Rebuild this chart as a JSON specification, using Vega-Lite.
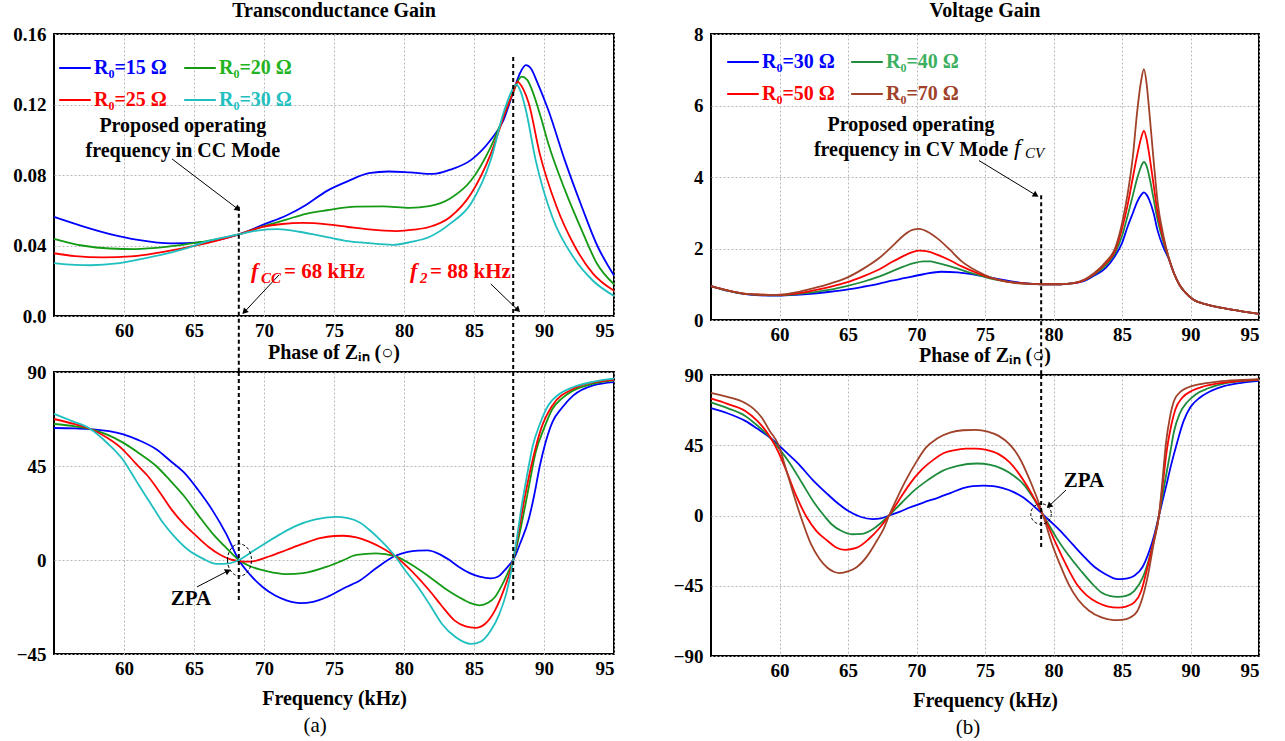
{
 "$schema": "https://vega.github.io/schema/vega-lite/v6.json",
 "background": "white",
 "padding": {"left": 11, "top": 0, "right": 5, "bottom": 0},
 "config": {
  "font": "Liberation Serif",
  "view": {"stroke": "black", "strokeWidth": 2},
  "axis": {"labelFont": "Liberation Serif", "labelFontWeight": "bold", "labelFontSize": 19, "labelColor": "black", "domain": false, "ticks": false, "gridColor": "#b8b8b8", "gridDash": [2, 2], "gridWidth": 1, "titleFont": "Liberation Serif", "titleFontWeight": "bold", "titleFontSize": 20, "titleColor": "black", "labelPadding": 5, "labelOverlap": false},
  "axisY": {"labelPadding": 8},
  "title": {"font": "Liberation Serif", "fontWeight": "bold", "fontSize": 20, "color": "black", "offset": 4},
  "legend": {"orient": "none", "columns": 2, "direction": "horizontal", "title": null, "symbolType": "stroke", "symbolSize": 1000, "symbolStrokeWidth": 2, "labelFont": "Liberation Serif", "labelFontWeight": "bold", "labelFontSize": 20, "labelOffset": 2, "rowPadding": 5, "padding": 0}
 },
 "datasets": {
  "gm": [
   {"s":"15","f":55,"v":0.0562},{"s":"15","f":57,"v":0.051},{"s":"15","f":59,"v":0.0465},{"s":"15","f":61,"v":0.0432},{"s":"15","f":63.4,"v":0.0412},{"s":"15","f":65.5,"v":0.0418},{"s":"15","f":68.2,"v":0.0463},{"s":"15","f":70,"v":0.052},{"s":"15","f":71.6,"v":0.057},{"s":"15","f":73,"v":0.063},{"s":"15","f":74.5,"v":0.071},{"s":"15","f":76,"v":0.0765},{"s":"15","f":77.5,"v":0.081},{"s":"15","f":78.9,"v":0.082},{"s":"15","f":80.4,"v":0.0815},{"s":"15","f":82.1,"v":0.0806},{"s":"15","f":83.3,"v":0.083},{"s":"15","f":84.8,"v":0.0886},{"s":"15","f":86.2,"v":0.1},{"s":"15","f":87.1,"v":0.111},{"s":"15","f":87.8,"v":0.127},{"s":"15","f":88.3,"v":0.138},{"s":"15","f":88.7,"v":0.1423},{"s":"15","f":89.1,"v":0.14},{"s":"15","f":89.5,"v":0.133},{"s":"15","f":90.3,"v":0.117},{"s":"15","f":91.5,"v":0.088},{"s":"15","f":92.7,"v":0.062},{"s":"15","f":93.8,"v":0.04},{"s":"15","f":95,"v":0.023},
   {"s":"20","f":55,"v":0.0438},{"s":"20","f":57,"v":0.04},{"s":"20","f":59,"v":0.0383},{"s":"20","f":60.8,"v":0.038},{"s":"20","f":63,"v":0.0392},{"s":"20","f":65.5,"v":0.042},{"s":"20","f":68.2,"v":0.0463},{"s":"20","f":70,"v":0.051},{"s":"20","f":71.6,"v":0.0547},{"s":"20","f":73,"v":0.058},{"s":"20","f":74.5,"v":0.06},{"s":"20","f":76.6,"v":0.062},{"s":"20","f":78.5,"v":0.0622},{"s":"20","f":80.4,"v":0.0613},{"s":"20","f":81.8,"v":0.0623},{"s":"20","f":83.3,"v":0.0667},{"s":"20","f":84.8,"v":0.077},{"s":"20","f":86.2,"v":0.096},{"s":"20","f":87.4,"v":0.119},{"s":"20","f":87.8,"v":0.127},{"s":"20","f":88.4,"v":0.1358},{"s":"20","f":88.8,"v":0.134},{"s":"20","f":89.2,"v":0.127},{"s":"20","f":89.8,"v":0.112},{"s":"20","f":90.3,"v":0.098},{"s":"20","f":91.5,"v":0.0714},{"s":"20","f":92.7,"v":0.0486},{"s":"20","f":93.8,"v":0.0295},{"s":"20","f":95,"v":0.018},
   {"s":"25","f":55,"v":0.0356},{"s":"25","f":56.5,"v":0.034},{"s":"25","f":58.5,"v":0.0333},{"s":"25","f":60.5,"v":0.0338},{"s":"25","f":62.5,"v":0.036},{"s":"25","f":64.5,"v":0.039},{"s":"25","f":66.5,"v":0.0425},{"s":"25","f":68.2,"v":0.0463},{"s":"25","f":69.9,"v":0.0505},{"s":"25","f":71.3,"v":0.0522},{"s":"25","f":72.8,"v":0.0528},{"s":"25","f":74.5,"v":0.052},{"s":"25","f":76,"v":0.0505},{"s":"25","f":77.5,"v":0.0491},{"s":"25","f":79.5,"v":0.0482},{"s":"25","f":80.7,"v":0.049},{"s":"25","f":81.8,"v":0.0505},{"s":"25","f":83.3,"v":0.0562},{"s":"25","f":84.8,"v":0.0695},{"s":"25","f":86.2,"v":0.092},{"s":"25","f":87.3,"v":0.117},{"s":"25","f":87.8,"v":0.127},{"s":"25","f":88.1,"v":0.133},{"s":"25","f":88.5,"v":0.129},{"s":"25","f":88.9,"v":0.121},{"s":"25","f":89.7,"v":0.092},{"s":"25","f":90.9,"v":0.062},{"s":"25","f":92.1,"v":0.041},{"s":"25","f":93.5,"v":0.024},{"s":"25","f":95,"v":0.0143},
   {"s":"30","f":55,"v":0.03},{"s":"30","f":56.5,"v":0.029},{"s":"30","f":57.6,"v":0.0288},{"s":"30","f":59.5,"v":0.0298},{"s":"30","f":61,"v":0.032},{"s":"30","f":62.8,"v":0.035},{"s":"30","f":64.5,"v":0.0385},{"s":"30","f":65.8,"v":0.042},{"s":"30","f":68.2,"v":0.0463},{"s":"30","f":69.5,"v":0.0485},{"s":"30","f":71,"v":0.0493},{"s":"30","f":72.5,"v":0.0478},{"s":"30","f":74.5,"v":0.0448},{"s":"30","f":76,"v":0.0425},{"s":"30","f":77.5,"v":0.0413},{"s":"30","f":79.2,"v":0.0404},{"s":"30","f":80.5,"v":0.042},{"s":"30","f":81.8,"v":0.0448},{"s":"30","f":83.3,"v":0.0524},{"s":"30","f":84.8,"v":0.064},{"s":"30","f":86.2,"v":0.0886},{"s":"30","f":87.1,"v":0.115},{"s":"30","f":87.6,"v":0.126},{"s":"30","f":88,"v":0.1314},{"s":"30","f":88.35,"v":0.127},{"s":"30","f":88.7,"v":0.117},{"s":"30","f":89.4,"v":0.0886},{"s":"30","f":90.6,"v":0.056},{"s":"30","f":92.1,"v":0.0333},{"s":"30","f":93.5,"v":0.02},{"s":"30","f":95,"v":0.0114}
  ],
  "pa": [
   {"s":"15","f":55,"v":63.2},{"s":"15","f":56.5,"v":63},{"s":"15","f":57.6,"v":62.7},{"s":"15","f":59.9,"v":60.3},{"s":"15","f":61,"v":57.5},{"s":"15","f":62.3,"v":53},{"s":"15","f":63.3,"v":47.5},{"s":"15","f":64.3,"v":41.8},{"s":"15","f":65.3,"v":33.5},{"s":"15","f":66.3,"v":24},{"s":"15","f":67.3,"v":12.5},{"s":"15","f":68.2,"v":0},{"s":"15","f":69,"v":-7},{"s":"15","f":69.9,"v":-12.9},{"s":"15","f":70.8,"v":-17},{"s":"15","f":71.6,"v":-19.3},{"s":"15","f":72.6,"v":-20.6},{"s":"15","f":73.5,"v":-20},{"s":"15","f":74.5,"v":-17.7},{"s":"15","f":75.7,"v":-13.5},{"s":"15","f":76.9,"v":-9.6},{"s":"15","f":78,"v":-4},{"s":"15","f":79.35,"v":1.9},{"s":"15","f":80.2,"v":3.8},{"s":"15","f":81,"v":4.5},{"s":"15","f":81.7,"v":4.6},{"s":"15","f":82.4,"v":3.2},{"s":"15","f":83.2,"v":0.2},{"s":"15","f":83.9,"v":-3.2},{"s":"15","f":84.7,"v":-6.3},{"s":"15","f":85.4,"v":-8},{"s":"15","f":86.2,"v":-8.8},{"s":"15","f":86.7,"v":-8},{"s":"15","f":87.1,"v":-5.6},{"s":"15","f":87.5,"v":-2.5},{"s":"15","f":87.8,"v":0},{"s":"15","f":88.3,"v":8},{"s":"15","f":88.9,"v":19.3},{"s":"15","f":89.3,"v":31},{"s":"15","f":89.7,"v":45},{"s":"15","f":90.1,"v":56},{"s":"15","f":90.6,"v":66},{"s":"15","f":91.3,"v":73},{"s":"15","f":92.1,"v":78.8},{"s":"15","f":93.5,"v":83.6},{"s":"15","f":95,"v":85.2},
   {"s":"20","f":55,"v":65.1},{"s":"20","f":56.5,"v":64},{"s":"20","f":57.6,"v":62.7},{"s":"20","f":58.8,"v":60},{"s":"20","f":59.9,"v":56.3},{"s":"20","f":61.1,"v":51},{"s":"20","f":62.3,"v":45},{"s":"20","f":63.3,"v":38},{"s":"20","f":64.3,"v":30.5},{"s":"20","f":65.3,"v":21.5},{"s":"20","f":66.3,"v":12.9},{"s":"20","f":67.3,"v":5.8},{"s":"20","f":68.2,"v":0},{"s":"20","f":69,"v":-3},{"s":"20","f":69.9,"v":-4.8},{"s":"20","f":70.8,"v":-6.2},{"s":"20","f":71.6,"v":-6.8},{"s":"20","f":72.8,"v":-6.3},{"s":"20","f":74.5,"v":-3.2},{"s":"20","f":75.6,"v":-0.3},{"s":"20","f":76.6,"v":2.4},{"s":"20","f":78,"v":3.2},{"s":"20","f":79.35,"v":1.9},{"s":"20","f":80.6,"v":-2.5},{"s":"20","f":81.8,"v":-8},{"s":"20","f":82.9,"v":-13.5},{"s":"20","f":83.9,"v":-17.7},{"s":"20","f":84.7,"v":-20.5},{"s":"20","f":85.4,"v":-21.7},{"s":"20","f":86,"v":-20.5},{"s":"20","f":86.5,"v":-17.7},{"s":"20","f":87,"v":-12},{"s":"20","f":87.4,"v":-6.4},{"s":"20","f":87.8,"v":0},{"s":"20","f":88.2,"v":11},{"s":"20","f":88.6,"v":24},{"s":"20","f":89,"v":38},{"s":"20","f":89.4,"v":51.4},{"s":"20","f":90,"v":63},{"s":"20","f":90.6,"v":72.3},{"s":"20","f":91.3,"v":77.5},{"s":"20","f":92.1,"v":81.2},{"s":"20","f":93.5,"v":84.4},{"s":"20","f":95,"v":86},
   {"s":"25","f":55,"v":67.5},{"s":"25","f":56.5,"v":65},{"s":"25","f":57.6,"v":62.7},{"s":"25","f":58.8,"v":58.5},{"s":"25","f":59.9,"v":53},{"s":"25","f":60.8,"v":46.5},{"s":"25","f":61.7,"v":40.2},{"s":"25","f":62.6,"v":32},{"s":"25","f":63.4,"v":24.1},{"s":"25","f":64.3,"v":17},{"s":"25","f":65.2,"v":11.3},{"s":"25","f":66,"v":6.5},{"s":"25","f":66.9,"v":2.4},{"s":"25","f":67.6,"v":0.3},{"s":"25","f":68.2,"v":-0.5},{"s":"25","f":68.8,"v":-0.8},{"s":"25","f":69.3,"v":-0.5},{"s":"25","f":70.4,"v":1.8},{"s":"25","f":71.6,"v":4.8},{"s":"25","f":72.8,"v":7.8},{"s":"25","f":74,"v":10.5},{"s":"25","f":75,"v":11.5},{"s":"25","f":75.7,"v":11.6},{"s":"25","f":76.6,"v":10.8},{"s":"25","f":77.5,"v":8.8},{"s":"25","f":78.5,"v":5.5},{"s":"25","f":79.35,"v":1.9},{"s":"25","f":80.5,"v":-5},{"s":"25","f":81.8,"v":-14.5},{"s":"25","f":82.7,"v":-22},{"s":"25","f":83.6,"v":-28.9},{"s":"25","f":84.4,"v":-31.8},{"s":"25","f":85.1,"v":-32.5},{"s":"25","f":85.8,"v":-30.5},{"s":"25","f":86.5,"v":-24.1},{"s":"25","f":87.2,"v":-13},{"s":"25","f":87.8,"v":0},{"s":"25","f":88.2,"v":14},{"s":"25","f":88.6,"v":29},{"s":"25","f":89.2,"v":48.2},{"s":"25","f":89.8,"v":63},{"s":"25","f":90.6,"v":74},{"s":"25","f":92.1,"v":82},{"s":"25","f":93.5,"v":85},{"s":"25","f":95,"v":86.3},
   {"s":"30","f":55,"v":70},{"s":"30","f":56.3,"v":66.5},{"s":"30","f":57.6,"v":62.7},{"s":"30","f":58.8,"v":56},{"s":"30","f":59.9,"v":48.2},{"s":"30","f":60.5,"v":42},{"s":"30","f":61.1,"v":35.4},{"s":"30","f":62,"v":26},{"s":"30","f":62.8,"v":17.7},{"s":"30","f":63.7,"v":10.5},{"s":"30","f":64.6,"v":4.8},{"s":"30","f":65.6,"v":0.8},{"s":"30","f":66.6,"v":-1.9},{"s":"30","f":67.4,"v":-1.7},{"s":"30","f":68.2,"v":0},{"s":"30","f":69.1,"v":3.8},{"s":"30","f":70.1,"v":8},{"s":"30","f":71.2,"v":12.5},{"s":"30","f":72.2,"v":16.1},{"s":"30","f":73.6,"v":19.3},{"s":"30","f":75.1,"v":20.6},{"s":"30","f":76,"v":20},{"s":"30","f":76.9,"v":17.7},{"s":"30","f":77.6,"v":14},{"s":"30","f":78.3,"v":9.6},{"s":"30","f":79.35,"v":1.9},{"s":"30","f":80.2,"v":-6},{"s":"30","f":81,"v":-12.9},{"s":"30","f":81.9,"v":-22},{"s":"30","f":82.7,"v":-30.5},{"s":"30","f":83.7,"v":-37},{"s":"30","f":84.8,"v":-40.2},{"s":"30","f":85.5,"v":-39},{"s":"30","f":86.2,"v":-33.8},{"s":"30","f":86.8,"v":-26},{"s":"30","f":87.3,"v":-16.1},{"s":"30","f":87.8,"v":0},{"s":"30","f":88.1,"v":12},{"s":"30","f":88.4,"v":25.7},{"s":"30","f":88.8,"v":41},{"s":"30","f":89.2,"v":54.7},{"s":"30","f":89.7,"v":65},{"s":"30","f":90.3,"v":74},{"s":"30","f":91,"v":79},{"s":"30","f":92.1,"v":82.8},{"s":"30","f":93.5,"v":85.3},{"s":"30","f":95,"v":86.8}
  ],
  "vg": [
   {"s":"30","f":55,"v":0.95},{"s":"30","f":56.2,"v":0.82},{"s":"30","f":57.4,"v":0.73},{"s":"30","f":58.6,"v":0.69},{"s":"30","f":59.8,"v":0.68},{"s":"30","f":61.2,"v":0.7},{"s":"30","f":62.5,"v":0.74},{"s":"30","f":63.7,"v":0.79},{"s":"30","f":64.9,"v":0.85},{"s":"30","f":66.1,"v":0.93},{"s":"30","f":67.3,"v":1.02},{"s":"30","f":68.2,"v":1.1},{"s":"30","f":69.1,"v":1.17},{"s":"30","f":70.5,"v":1.28},{"s":"30","f":71.8,"v":1.35},{"s":"30","f":73,"v":1.33},{"s":"30","f":74.5,"v":1.25},{"s":"30","f":76,"v":1.14},{"s":"30","f":77.6,"v":1.04},{"s":"30","f":79.2,"v":1},{"s":"30","f":80.5,"v":1},{"s":"30","f":81.5,"v":1.03},{"s":"30","f":82.3,"v":1.1},{"s":"30","f":83,"v":1.25},{"s":"30","f":83.8,"v":1.45},{"s":"30","f":84.5,"v":1.8},{"s":"30","f":85,"v":2.15},{"s":"30","f":85.4,"v":2.6},{"s":"30","f":85.8,"v":3},{"s":"30","f":86.1,"v":3.3},{"s":"30","f":86.4,"v":3.5},{"s":"30","f":86.6,"v":3.57},{"s":"30","f":86.8,"v":3.5},{"s":"30","f":87,"v":3.35},{"s":"30","f":87.3,"v":3},{"s":"30","f":87.6,"v":2.5},{"s":"30","f":88,"v":2.05},{"s":"30","f":88.4,"v":1.72},{"s":"30","f":88.8,"v":1.3},{"s":"30","f":89.2,"v":0.98},{"s":"30","f":89.6,"v":0.78},{"s":"30","f":90.25,"v":0.56},{"s":"30","f":91,"v":0.45},{"s":"30","f":92,"v":0.36},{"s":"30","f":93,"v":0.29},{"s":"30","f":94,"v":0.23},{"s":"30","f":95,"v":0.17},
   {"s":"40","f":55,"v":0.95},{"s":"40","f":56.2,"v":0.82},{"s":"40","f":57.4,"v":0.73},{"s":"40","f":58.6,"v":0.7},{"s":"40","f":59.8,"v":0.69},{"s":"40","f":61.2,"v":0.72},{"s":"40","f":62.5,"v":0.78},{"s":"40","f":63.7,"v":0.85},{"s":"40","f":64.9,"v":0.95},{"s":"40","f":66.1,"v":1.07},{"s":"40","f":67.3,"v":1.22},{"s":"40","f":68.2,"v":1.36},{"s":"40","f":69.1,"v":1.5},{"s":"40","f":69.8,"v":1.59},{"s":"40","f":70.5,"v":1.64},{"s":"40","f":71,"v":1.64},{"s":"40","f":71.5,"v":1.6},{"s":"40","f":72.4,"v":1.51},{"s":"40","f":73.3,"v":1.4},{"s":"40","f":74.4,"v":1.27},{"s":"40","f":75.5,"v":1.15},{"s":"40","f":76.5,"v":1.08},{"s":"40","f":77.6,"v":1.03},{"s":"40","f":79.2,"v":1},{"s":"40","f":80.5,"v":1},{"s":"40","f":81.5,"v":1.03},{"s":"40","f":82.3,"v":1.12},{"s":"40","f":83,"v":1.28},{"s":"40","f":83.8,"v":1.52},{"s":"40","f":84.5,"v":1.88},{"s":"40","f":85,"v":2.35},{"s":"40","f":85.4,"v":2.9},{"s":"40","f":85.8,"v":3.5},{"s":"40","f":86.1,"v":3.95},{"s":"40","f":86.4,"v":4.3},{"s":"40","f":86.6,"v":4.42},{"s":"40","f":86.8,"v":4.3},{"s":"40","f":87,"v":4},{"s":"40","f":87.3,"v":3.4},{"s":"40","f":87.6,"v":2.8},{"s":"40","f":88,"v":2.2},{"s":"40","f":88.4,"v":1.74},{"s":"40","f":88.8,"v":1.3},{"s":"40","f":89.2,"v":0.98},{"s":"40","f":89.6,"v":0.78},{"s":"40","f":90.25,"v":0.56},{"s":"40","f":91,"v":0.45},{"s":"40","f":92,"v":0.36},{"s":"40","f":93,"v":0.29},{"s":"40","f":94,"v":0.23},{"s":"40","f":95,"v":0.17},
   {"s":"50","f":55,"v":0.95},{"s":"50","f":56.2,"v":0.83},{"s":"50","f":57.4,"v":0.74},{"s":"50","f":58.6,"v":0.71},{"s":"50","f":59.8,"v":0.7},{"s":"50","f":61.2,"v":0.74},{"s":"50","f":62.5,"v":0.83},{"s":"50","f":63.7,"v":0.93},{"s":"50","f":64.9,"v":1.05},{"s":"50","f":66.1,"v":1.22},{"s":"50","f":67.3,"v":1.42},{"s":"50","f":68.2,"v":1.62},{"s":"50","f":69.1,"v":1.8},{"s":"50","f":69.7,"v":1.9},{"s":"50","f":70.2,"v":1.94},{"s":"50","f":70.8,"v":1.92},{"s":"50","f":71.5,"v":1.83},{"s":"50","f":72.4,"v":1.68},{"s":"50","f":73.3,"v":1.5},{"s":"50","f":74.4,"v":1.32},{"s":"50","f":75.5,"v":1.17},{"s":"50","f":76.5,"v":1.08},{"s":"50","f":77.6,"v":1.03},{"s":"50","f":79.2,"v":1},{"s":"50","f":80.5,"v":1},{"s":"50","f":81.5,"v":1.03},{"s":"50","f":82.3,"v":1.13},{"s":"50","f":83,"v":1.3},{"s":"50","f":83.8,"v":1.58},{"s":"50","f":84.5,"v":1.95},{"s":"50","f":85,"v":2.55},{"s":"50","f":85.4,"v":3.2},{"s":"50","f":85.8,"v":4},{"s":"50","f":86.1,"v":4.6},{"s":"50","f":86.4,"v":5.1},{"s":"50","f":86.6,"v":5.29},{"s":"50","f":86.8,"v":5.05},{"s":"50","f":87,"v":4.6},{"s":"50","f":87.3,"v":3.8},{"s":"50","f":87.6,"v":3},{"s":"50","f":88,"v":2.3},{"s":"50","f":88.4,"v":1.75},{"s":"50","f":88.8,"v":1.3},{"s":"50","f":89.2,"v":0.98},{"s":"50","f":89.6,"v":0.78},{"s":"50","f":90.25,"v":0.56},{"s":"50","f":91,"v":0.45},{"s":"50","f":92,"v":0.36},{"s":"50","f":93,"v":0.29},{"s":"50","f":94,"v":0.23},{"s":"50","f":95,"v":0.17},
   {"s":"70","f":55,"v":0.95},{"s":"70","f":56.2,"v":0.83},{"s":"70","f":57.4,"v":0.74},{"s":"70","f":58.6,"v":0.71},{"s":"70","f":59.8,"v":0.7},{"s":"70","f":61.2,"v":0.77},{"s":"70","f":62.5,"v":0.89},{"s":"70","f":63.7,"v":1.02},{"s":"70","f":64.9,"v":1.18},{"s":"70","f":66.1,"v":1.43},{"s":"70","f":67.3,"v":1.74},{"s":"70","f":68.2,"v":2.05},{"s":"70","f":69.1,"v":2.38},{"s":"70","f":69.7,"v":2.52},{"s":"70","f":70.2,"v":2.55},{"s":"70","f":70.8,"v":2.47},{"s":"70","f":71.5,"v":2.29},{"s":"70","f":72.4,"v":1.98},{"s":"70","f":73.3,"v":1.64},{"s":"70","f":74.4,"v":1.37},{"s":"70","f":75.5,"v":1.18},{"s":"70","f":76.5,"v":1.08},{"s":"70","f":77.6,"v":1.02},{"s":"70","f":79.4,"v":1},{"s":"70","f":80.5,"v":1},{"s":"70","f":81.5,"v":1.04},{"s":"70","f":82.3,"v":1.14},{"s":"70","f":83,"v":1.32},{"s":"70","f":83.8,"v":1.62},{"s":"70","f":84.5,"v":2.01},{"s":"70","f":85,"v":2.7},{"s":"70","f":85.4,"v":3.5},{"s":"70","f":85.8,"v":4.6},{"s":"70","f":86.1,"v":5.8},{"s":"70","f":86.4,"v":6.7},{"s":"70","f":86.6,"v":7.02},{"s":"70","f":86.8,"v":6.6},{"s":"70","f":87,"v":5.8},{"s":"70","f":87.3,"v":4.5},{"s":"70","f":87.6,"v":3.3},{"s":"70","f":88,"v":2.4},{"s":"70","f":88.4,"v":1.76},{"s":"70","f":88.8,"v":1.3},{"s":"70","f":89.2,"v":0.98},{"s":"70","f":89.6,"v":0.78},{"s":"70","f":90.25,"v":0.56},{"s":"70","f":91,"v":0.45},{"s":"70","f":92,"v":0.36},{"s":"70","f":93,"v":0.29},{"s":"70","f":94,"v":0.23},{"s":"70","f":95,"v":0.17}
  ],
  "pb": [
   {"s":"30","f":55,"v":68.8},{"s":"30","f":56.2,"v":65.5},{"s":"30","f":57.5,"v":60.6},{"s":"30","f":58.4,"v":55.5},{"s":"30","f":59.3,"v":50},{"s":"30","f":60.3,"v":42},{"s":"30","f":61.4,"v":32.9},{"s":"30","f":62.4,"v":23},{"s":"30","f":63.5,"v":13.7},{"s":"30","f":64.3,"v":7.5},{"s":"30","f":65,"v":3},{"s":"30","f":65.9,"v":-0.8},{"s":"30","f":66.8,"v":-2.3},{"s":"30","f":67.4,"v":-1.8},{"s":"30","f":68,"v":0},{"s":"30","f":68.8,"v":2.5},{"s":"30","f":69.5,"v":5.1},{"s":"30","f":70.5,"v":8.3},{"s":"30","f":71.6,"v":11.5},{"s":"30","f":72.5,"v":14.5},{"s":"30","f":73.4,"v":17.5},{"s":"30","f":74.1,"v":18.8},{"s":"30","f":74.9,"v":19.2},{"s":"30","f":75.6,"v":18.8},{"s":"30","f":76.3,"v":17.5},{"s":"30","f":77.1,"v":15},{"s":"30","f":77.8,"v":11.5},{"s":"30","f":78.5,"v":6.5},{"s":"30","f":79.2,"v":0.9},{"s":"30","f":79.8,"v":-4},{"s":"30","f":80.5,"v":-9.8},{"s":"30","f":81.4,"v":-18.5},{"s":"30","f":82.3,"v":-27},{"s":"30","f":83,"v":-33},{"s":"30","f":83.8,"v":-37.6},{"s":"30","f":84.4,"v":-40.2},{"s":"30","f":84.9,"v":-40.8},{"s":"30","f":85.4,"v":-40.3},{"s":"30","f":85.9,"v":-38.6},{"s":"30","f":86.5,"v":-33},{"s":"30","f":87,"v":-22.6},{"s":"30","f":87.4,"v":-11},{"s":"30","f":87.7,"v":0},{"s":"30","f":88.2,"v":18},{"s":"30","f":88.6,"v":32.9},{"s":"30","f":89,"v":46},{"s":"30","f":89.5,"v":60.6},{"s":"30","f":90,"v":69.5},{"s":"30","f":90.7,"v":75.6},{"s":"30","f":91.5,"v":79.8},{"s":"30","f":92.5,"v":83},{"s":"30","f":93.7,"v":85},{"s":"30","f":95,"v":86.3},
   {"s":"40","f":55,"v":72.4},{"s":"40","f":56.2,"v":68.8},{"s":"40","f":57.5,"v":63.8},{"s":"40","f":58.4,"v":57.5},{"s":"40","f":59.3,"v":50},{"s":"40","f":60,"v":42.5},{"s":"40","f":60.8,"v":32.9},{"s":"40","f":61.7,"v":20},{"s":"40","f":62.6,"v":7.3},{"s":"40","f":63.2,"v":0.5},{"s":"40","f":63.8,"v":-5.6},{"s":"40","f":64.5,"v":-9.8},{"s":"40","f":65.3,"v":-12},{"s":"40","f":66,"v":-11.8},{"s":"40","f":66.8,"v":-8.8},{"s":"40","f":67.4,"v":-4.8},{"s":"40","f":68,"v":0},{"s":"40","f":68.9,"v":8},{"s":"40","f":69.8,"v":15.8},{"s":"40","f":70.8,"v":22.5},{"s":"40","f":71.9,"v":28.6},{"s":"40","f":73,"v":31.8},{"s":"40","f":74.4,"v":33.3},{"s":"40","f":75.4,"v":32.5},{"s":"40","f":76.3,"v":29.7},{"s":"40","f":77.1,"v":25.5},{"s":"40","f":77.8,"v":20.1},{"s":"40","f":78.5,"v":11.5},{"s":"40","f":79.2,"v":0.9},{"s":"40","f":79.7,"v":-6.5},{"s":"40","f":80.2,"v":-14},{"s":"40","f":81.1,"v":-25.5},{"s":"40","f":82,"v":-35.4},{"s":"40","f":82.8,"v":-43.5},{"s":"40","f":83.5,"v":-49.3},{"s":"40","f":84.1,"v":-51.5},{"s":"40","f":84.7,"v":-52.1},{"s":"40","f":85.3,"v":-51.5},{"s":"40","f":85.9,"v":-48.3},{"s":"40","f":86.5,"v":-40},{"s":"40","f":87,"v":-27},{"s":"40","f":87.4,"v":-13},{"s":"40","f":87.7,"v":0},{"s":"40","f":88.1,"v":20},{"s":"40","f":88.5,"v":39.3},{"s":"40","f":88.8,"v":54},{"s":"40","f":89.2,"v":65},{"s":"40","f":89.8,"v":73},{"s":"40","f":90.4,"v":77.7},{"s":"40","f":91.3,"v":81.5},{"s":"40","f":92.5,"v":84.6},{"s":"40","f":93.7,"v":86},{"s":"40","f":95,"v":86.7},
   {"s":"50","f":55,"v":75},{"s":"50","f":56.2,"v":71.5},{"s":"50","f":57.5,"v":67},{"s":"50","f":58.4,"v":60.5},{"s":"50","f":59.3,"v":50.4},{"s":"50","f":59.9,"v":41},{"s":"50","f":60.5,"v":28.6},{"s":"50","f":61.2,"v":13},{"s":"50","f":62,"v":-1.3},{"s":"50","f":62.7,"v":-10},{"s":"50","f":63.5,"v":-16.2},{"s":"50","f":64.1,"v":-20.3},{"s":"50","f":64.8,"v":-22},{"s":"50","f":65.6,"v":-20.8},{"s":"50","f":66.5,"v":-15.2},{"s":"50","f":67.3,"v":-8},{"s":"50","f":68,"v":0},{"s":"50","f":68.7,"v":9.5},{"s":"50","f":69.5,"v":20.1},{"s":"50","f":70.4,"v":29.5},{"s":"50","f":71.3,"v":36.1},{"s":"50","f":72,"v":40},{"s":"50","f":72.8,"v":41.9},{"s":"50","f":73.6,"v":42.8},{"s":"50","f":74.3,"v":42.9},{"s":"50","f":75.1,"v":42},{"s":"50","f":76,"v":39.3},{"s":"50","f":76.8,"v":34},{"s":"50","f":77.5,"v":26.5},{"s":"50","f":78.4,"v":14},{"s":"50","f":79.2,"v":0.9},{"s":"50","f":79.7,"v":-8.5},{"s":"50","f":80.2,"v":-18.4},{"s":"50","f":81,"v":-33},{"s":"50","f":81.7,"v":-44},{"s":"50","f":82.4,"v":-51},{"s":"50","f":83.2,"v":-55.7},{"s":"50","f":84,"v":-58.3},{"s":"50","f":84.7,"v":-59},{"s":"50","f":85.3,"v":-58.3},{"s":"50","f":85.9,"v":-55.7},{"s":"50","f":86.4,"v":-48.5},{"s":"50","f":86.8,"v":-35.4},{"s":"50","f":87.3,"v":-17},{"s":"50","f":87.7,"v":0},{"s":"50","f":88,"v":22},{"s":"50","f":88.3,"v":43.6},{"s":"50","f":88.6,"v":58},{"s":"50","f":88.9,"v":68.1},{"s":"50","f":89.4,"v":75.5},{"s":"50","f":90.1,"v":79.9},{"s":"50","f":91,"v":82.8},{"s":"50","f":92.5,"v":85.2},{"s":"50","f":93.7,"v":86.3},{"s":"50","f":95,"v":87.1},
   {"s":"70","f":55,"v":78.6},{"s":"70","f":56.2,"v":76},{"s":"70","f":57.5,"v":72},{"s":"70","f":58.1,"v":68.5},{"s":"70","f":58.7,"v":62.8},{"s":"70","f":59.3,"v":54},{"s":"70","f":59.9,"v":45.7},{"s":"70","f":60.5,"v":29},{"s":"70","f":61.1,"v":11.5},{"s":"70","f":61.7,"v":-4.5},{"s":"70","f":62.3,"v":-18.4},{"s":"70","f":62.9,"v":-27.5},{"s":"70","f":63.5,"v":-33.5},{"s":"70","f":64,"v":-36.2},{"s":"70","f":64.4,"v":-36.9},{"s":"70","f":65,"v":-35.8},{"s":"70","f":65.6,"v":-33.3},{"s":"70","f":66.4,"v":-26},{"s":"70","f":67.1,"v":-16.2},{"s":"70","f":67.6,"v":-8.5},{"s":"70","f":68,"v":0},{"s":"70","f":68.6,"v":11.5},{"s":"70","f":69.2,"v":22.2},{"s":"70","f":70,"v":34.5},{"s":"70","f":70.7,"v":43.6},{"s":"70","f":71.5,"v":49.3},{"s":"70","f":72.5,"v":53.2},{"s":"70","f":73.4,"v":54.6},{"s":"70","f":74.3,"v":54.9},{"s":"70","f":75.2,"v":53.8},{"s":"70","f":76,"v":51},{"s":"70","f":76.8,"v":45.5},{"s":"70","f":77.5,"v":37.2},{"s":"70","f":78.4,"v":20},{"s":"70","f":79.2,"v":1.3},{"s":"70","f":79.9,"v":-18.4},{"s":"70","f":80.5,"v":-32},{"s":"70","f":81.1,"v":-44},{"s":"70","f":81.8,"v":-54},{"s":"70","f":82.6,"v":-61},{"s":"70","f":83.5,"v":-65.3},{"s":"70","f":84.4,"v":-67},{"s":"70","f":85,"v":-66.8},{"s":"70","f":85.6,"v":-65.3},{"s":"70","f":86.1,"v":-61.5},{"s":"70","f":86.5,"v":-52.5},{"s":"70","f":86.9,"v":-38},{"s":"70","f":87.3,"v":-18.4},{"s":"70","f":87.7,"v":0},{"s":"70","f":87.95,"v":22},{"s":"70","f":88.2,"v":45.7},{"s":"70","f":88.5,"v":63},{"s":"70","f":88.8,"v":73.5},{"s":"70","f":89.3,"v":79.5},{"s":"70","f":89.8,"v":82},{"s":"70","f":90.6,"v":84},{"s":"70","f":92,"v":85.8},{"s":"70","f":93.7,"v":86.8},{"s":"70","f":95,"v":87.3}
  ]
 },
 "resolve": {"scale": {"color": "independent"}, "legend": {"color": "independent"}},
 "spacing": 53,
 "hconcat": [
  {
   "bounds": "flush",
   "spacing": 56,
   "title": {"text": "(a)", "orient": "bottom", "anchor": "middle", "fontWeight": "normal", "fontSize": 21, "offset": 6},
   "resolve": {"scale": {"color": "independent"}, "legend": {"color": "independent"}},
   "vconcat": [
    {
     "width": 560, "height": 282,
     "title": {"text": "Transconductance Gain"},
     "layer": [
      {
       "data": {"name": "gm"},
       "mark": {"type": "line", "strokeWidth": 1.8, "interpolate": "monotone"},
       "encoding": {
        "x": {"field": "f", "type": "quantitative", "scale": {"domain": [55, 95], "nice": false, "zero": false}, "axis": {"values": [60, 65, 70, 75, 80, 85, 90, 95], "title": null}},
        "y": {"field": "v", "type": "quantitative", "scale": {"domain": [0, 0.16], "nice": false, "zero": false}, "axis": {"values": [0, 0.02, 0.04, 0.06, 0.08, 0.1, 0.12, 0.14, 0.16], "labelExpr": "datum.value == 0 ? '0.0' : (round(datum.value * 100) % 4 == 0 ? format(datum.value, '.2f') : '')", "title": null}},
        "color": {"field": "s", "type": "nominal", "scale": {"domain": ["15", "20", "25", "30"], "range": ["#0000ff", "#149a14", "#ff0000", "#1fbfbf"]}, "legend": {"legendX": 4, "legendY": 17, "columnPadding": 13, "labelExpr": "'R₀=' + datum.label + ' Ω'", "labelColor": {"expr": "datum.value == '15' ? '#0000ff' : datum.value == '20' ? '#22b422' : datum.value == '25' ? '#ff0000' : '#22c0c0'"}}}
       }
      },
      {
       "data": {"values": [{"f": 68.2, "v": 0.062, "v2": -0.032}, {"f": 87.8, "v": 0.147, "v2": -0.032}]},
       "mark": {"type": "rule", "strokeDash": [4, 3], "strokeWidth": 2, "color": "black"},
       "encoding": {"x": {"field": "f", "type": "quantitative"}, "y": {"field": "v", "type": "quantitative"}, "y2": {"field": "v2"}}
      },
      {
       "data": {"values": [{"f": 63.43, "v": 0.0891, "f2": 68.1, "v2": 0.0609}, {"f": 71.07, "v": 0.0233, "f2": 68.6, "v2": 0.0023}, {"f": 86.2, "v": 0.0182, "f2": 88.1, "v2": 0.0036}]},
       "mark": {"type": "rule", "strokeWidth": 1, "color": "black"},
       "encoding": {"x": {"field": "f", "type": "quantitative"}, "y": {"field": "v", "type": "quantitative"}, "x2": {"field": "f2"}, "y2": {"field": "v2"}}
      },
      {"data": {"values": [{"f": 68.14, "v": 0.0607}]}, "mark": {"type": "point", "shape": "triangle-right", "angle": 37, "size": 45, "filled": true, "color": "black", "opacity": 1}, "encoding": {"x": {"field": "f", "type": "quantitative"}, "y": {"field": "v", "type": "quantitative"}}},
      {"data": {"values": [{"f": 68.6, "v": 0.0023}]}, "mark": {"type": "point", "shape": "triangle-right", "angle": 133, "size": 45, "filled": true, "color": "black", "opacity": 1}, "encoding": {"x": {"field": "f", "type": "quantitative"}, "y": {"field": "v", "type": "quantitative"}}},
      {"data": {"values": [{"f": 88.14, "v": 0.0034}]}, "mark": {"type": "point", "shape": "triangle-right", "angle": 44, "size": 45, "filled": true, "color": "black", "opacity": 1}, "encoding": {"x": {"field": "f", "type": "quantitative"}, "y": {"field": "v", "type": "quantitative"}}},
      {
       "data": {"values": [{"f": 64.2, "v": 0.1078, "t": "Proposed operating"}, {"f": 64.2, "v": 0.0936, "t": "frequency in CC Mode"}]},
       "mark": {"type": "text", "font": "Liberation Serif", "fontWeight": "bold", "fontSize": 20, "color": "black", "align": "center", "baseline": "middle"},
       "encoding": {"x": {"field": "f", "type": "quantitative"}, "y": {"field": "v", "type": "quantitative"}, "text": {"field": "t"}}
      },
      {"data": {"values": [{"f": 69.07, "v": 0.0216, "t": "f"}, {"f": 80.43, "v": 0.0216, "t": "f"}]}, "mark": {"type": "text", "font": "Liberation Serif", "fontWeight": "bold", "fontStyle": "italic", "fontSize": 22, "color": "#ff0000", "align": "left", "baseline": "alphabetic"}, "encoding": {"x": {"field": "f", "type": "quantitative"}, "y": {"field": "v", "type": "quantitative"}, "text": {"field": "t"}}},
      {"data": {"values": [{"f": 69.07, "v": 0.0216, "t": "CC"}]}, "mark": {"type": "text", "font": "Liberation Serif", "fontWeight": "bold", "fontStyle": "italic", "fontSize": 15, "color": "#ff0000", "align": "left", "baseline": "alphabetic", "dx": 10, "dy": 5}, "encoding": {"x": {"field": "f", "type": "quantitative"}, "y": {"field": "v", "type": "quantitative"}, "text": {"field": "t"}}},
      {"data": {"values": [{"f": 80.43, "v": 0.0216, "t": "2"}]}, "mark": {"type": "text", "font": "Liberation Serif", "fontWeight": "bold", "fontStyle": "italic", "fontSize": 15, "color": "#ff0000", "align": "left", "baseline": "alphabetic", "dx": 10, "dy": 5}, "encoding": {"x": {"field": "f", "type": "quantitative"}, "y": {"field": "v", "type": "quantitative"}, "text": {"field": "t"}}},
      {"data": {"values": [{"f": 69.07, "v": 0.0216, "t": "= 68 kHz"}]}, "mark": {"type": "text", "font": "Liberation Serif", "fontWeight": "bold", "fontSize": 21, "color": "#ff0000", "align": "left", "baseline": "alphabetic", "dx": 33}, "encoding": {"x": {"field": "f", "type": "quantitative"}, "y": {"field": "v", "type": "quantitative"}, "text": {"field": "t"}}},
      {"data": {"values": [{"f": 80.43, "v": 0.0216, "t": "= 88 kHz"}]}, "mark": {"type": "text", "font": "Liberation Serif", "fontWeight": "bold", "fontSize": 21, "color": "#ff0000", "align": "left", "baseline": "alphabetic", "dx": 20}, "encoding": {"x": {"field": "f", "type": "quantitative"}, "y": {"field": "v", "type": "quantitative"}, "text": {"field": "t"}}}
     ]
    },
    {
     "width": 560, "height": 282,
     "title": {"text": "Phase of Zᵢₙ (○)", "offset": 0},
     "layer": [
      {
       "data": {"name": "pa"},
       "mark": {"type": "line", "strokeWidth": 1.8, "interpolate": "monotone"},
       "encoding": {
        "x": {"field": "f", "type": "quantitative", "scale": {"domain": [55, 95], "nice": false, "zero": false}, "axis": {"values": [60, 65, 70, 75, 80, 85, 90, 95], "title": "Frequency (kHz)", "titlePadding": 10}},
        "y": {"field": "v", "type": "quantitative", "scale": {"domain": [-45, 90], "nice": false, "zero": false}, "axis": {"values": [-45, 0, 45, 90], "title": null}},
        "color": {"field": "s", "type": "nominal", "scale": {"domain": ["15", "20", "25", "30"], "range": ["#0000ff", "#149a14", "#ff0000", "#1fbfbf"]}, "legend": null}
       }
      },
      {
       "data": {"values": [{"f": 68.2, "v": 90, "v2": -20}, {"f": 87.8, "v": 90, "v2": -19}]},
       "mark": {"type": "rule", "strokeDash": [4, 3], "strokeWidth": 2, "color": "black"},
       "encoding": {"x": {"field": "f", "type": "quantitative"}, "y": {"field": "v", "type": "quantitative"}, "y2": {"field": "v2"}}
      },
      {"data": {"values": [{"f": 68.25, "v": 0}]}, "mark": {"type": "point", "shape": "M-0.75,0A0.75,1 0 1,0 0.75,0A0.75,1 0 1,0 -0.75,0Z", "size": 1024, "filled": false, "color": "black", "strokeWidth": 1, "strokeDash": [3, 2], "opacity": 1}, "encoding": {"x": {"field": "f", "type": "quantitative"}, "y": {"field": "v", "type": "quantitative"}}},
      {
       "data": {"values": [{"f": 65.21, "v": -12.9, "f2": 67.4, "v2": -5.3}]},
       "mark": {"type": "rule", "strokeWidth": 1, "color": "black"},
       "encoding": {"x": {"field": "f", "type": "quantitative"}, "y": {"field": "v", "type": "quantitative"}, "x2": {"field": "f2"}, "y2": {"field": "v2"}}
      },
      {"data": {"values": [{"f": 67.43, "v": -5.26}]}, "mark": {"type": "point", "shape": "triangle-right", "angle": -27, "size": 45, "filled": true, "color": "black", "opacity": 1}, "encoding": {"x": {"field": "f", "type": "quantitative"}, "y": {"field": "v", "type": "quantitative"}}},
      {"data": {"values": [{"f": 64.79, "v": -18.7, "t": "ZPA"}]}, "mark": {"type": "text", "font": "Liberation Serif", "fontWeight": "bold", "fontSize": 21, "color": "black", "align": "center", "baseline": "middle"}, "encoding": {"x": {"field": "f", "type": "quantitative"}, "y": {"field": "v", "type": "quantitative"}, "text": {"field": "t"}}}
     ]
    }
   ]
  },
  {
   "bounds": "flush",
   "spacing": 55,
   "title": {"text": "(b)", "orient": "bottom", "anchor": "middle", "fontWeight": "normal", "fontSize": 21, "offset": 6},
   "resolve": {"scale": {"color": "independent"}, "legend": {"color": "independent"}},
   "vconcat": [
    {
     "width": 548, "height": 286,
     "title": {"text": "Voltage Gain"},
     "layer": [
      {
       "data": {"name": "vg"},
       "mark": {"type": "line", "strokeWidth": 1.8, "interpolate": "monotone"},
       "encoding": {
        "x": {"field": "f", "type": "quantitative", "scale": {"domain": [55, 95], "nice": false, "zero": false}, "axis": {"values": [60, 65, 70, 75, 80, 85, 90, 95], "title": null}},
        "y": {"field": "v", "type": "quantitative", "scale": {"domain": [0, 8], "nice": false, "zero": false}, "axis": {"values": [0, 1, 2, 3, 4, 5, 6, 7, 8], "title": null}},
        "color": {"field": "s", "type": "nominal", "scale": {"domain": ["30", "40", "50", "70"], "range": ["#0000ff", "#1e8c3c", "#ff0000", "#a0422a"]}, "legend": {"legendX": 15, "legendY": 11, "columnPadding": 12, "labelExpr": "'R₀=' + datum.label + ' Ω'", "labelColor": {"expr": "datum.value == '30' ? '#0000ff' : datum.value == '40' ? '#3cb060' : datum.value == '50' ? '#ff0000' : '#a0422a'"}}}
       }
      },
      {
       "data": {"values": [{"f": 79.1, "v": 3.49, "v2": -1.55}]},
       "mark": {"type": "rule", "strokeDash": [4, 3], "strokeWidth": 2, "color": "black"},
       "encoding": {"x": {"field": "f", "type": "quantitative"}, "y": {"field": "v", "type": "quantitative"}, "y2": {"field": "v2"}}
      },
      {
       "data": {"values": [{"f": 74.56, "v": 4.46, "f2": 78.68, "v2": 3.5}]},
       "mark": {"type": "rule", "strokeWidth": 1, "color": "black"},
       "encoding": {"x": {"field": "f", "type": "quantitative"}, "y": {"field": "v", "type": "quantitative"}, "x2": {"field": "f2"}, "y2": {"field": "v2"}}
      },
      {"data": {"values": [{"f": 78.72, "v": 3.49}]}, "mark": {"type": "point", "shape": "triangle-right", "angle": 31, "size": 45, "filled": true, "color": "black", "opacity": 1}, "encoding": {"x": {"field": "f", "type": "quantitative"}, "y": {"field": "v", "type": "quantitative"}}},
      {
       "data": {"values": [{"f": 69.6, "v": 5.45, "t": "Proposed operating"}, {"f": 69.6, "v": 4.76, "t": "frequency in CV Mode"}]},
       "mark": {"type": "text", "font": "Liberation Serif", "fontWeight": "bold", "fontSize": 20, "color": "black", "align": "center", "baseline": "middle"},
       "encoding": {"x": {"field": "f", "type": "quantitative"}, "y": {"field": "v", "type": "quantitative"}, "text": {"field": "t"}}
      },
      {"data": {"values": [{"f": 77.12, "v": 4.62, "t": "f"}]}, "mark": {"type": "text", "font": "Liberation Serif", "fontStyle": "italic", "fontSize": 24, "color": "black", "align": "left", "baseline": "alphabetic"}, "encoding": {"x": {"field": "f", "type": "quantitative"}, "y": {"field": "v", "type": "quantitative"}, "text": {"field": "t"}}},
      {"data": {"values": [{"f": 77.12, "v": 4.62, "t": "CV"}]}, "mark": {"type": "text", "font": "Liberation Serif", "fontStyle": "italic", "fontSize": 15, "color": "black", "align": "left", "baseline": "alphabetic", "dx": 11, "dy": 3}, "encoding": {"x": {"field": "f", "type": "quantitative"}, "y": {"field": "v", "type": "quantitative"}, "text": {"field": "t"}}}
     ]
    },
    {
     "width": 548, "height": 281,
     "title": {"text": "Phase of Zᵢₙ (○)", "offset": 0},
     "layer": [
      {
       "data": {"name": "pb"},
       "mark": {"type": "line", "strokeWidth": 1.8, "interpolate": "monotone"},
       "encoding": {
        "x": {"field": "f", "type": "quantitative", "scale": {"domain": [55, 95], "nice": false, "zero": false}, "axis": {"values": [60, 65, 70, 75, 80, 85, 90, 95], "title": "Frequency (kHz)", "titlePadding": 10}},
        "y": {"field": "v", "type": "quantitative", "scale": {"domain": [-90, 90], "nice": false, "zero": false}, "axis": {"values": [-90, -45, 0, 45, 90], "title": null}},
        "color": {"field": "s", "type": "nominal", "scale": {"domain": ["30", "40", "50", "70"], "range": ["#0000ff", "#1e8c3c", "#ff0000", "#a0422a"]}, "legend": null}
       }
      },
      {
       "data": {"values": [{"f": 79.1, "v": 90, "v2": -21.6}]},
       "mark": {"type": "rule", "strokeDash": [4, 3], "strokeWidth": 2, "color": "black"},
       "encoding": {"x": {"field": "f", "type": "quantitative"}, "y": {"field": "v", "type": "quantitative"}, "y2": {"field": "v2"}}
      },
      {"data": {"values": [{"f": 79.09, "v": 0.96}]}, "mark": {"type": "point", "shape": "circle", "size": 420, "filled": false, "color": "black", "strokeWidth": 1, "strokeDash": [3, 2], "opacity": 1}, "encoding": {"x": {"field": "f", "type": "quantitative"}, "y": {"field": "v", "type": "quantitative"}}},
      {
       "data": {"values": [{"f": 80.91, "v": 16.3, "f2": 79.7, "v2": 6.3}]},
       "mark": {"type": "rule", "strokeWidth": 1, "color": "black"},
       "encoding": {"x": {"field": "f", "type": "quantitative"}, "y": {"field": "v", "type": "quantitative"}, "x2": {"field": "f2"}, "y2": {"field": "v2"}}
      },
      {"data": {"values": [{"f": 79.67, "v": 6.08}]}, "mark": {"type": "point", "shape": "triangle-right", "angle": 137, "size": 45, "filled": true, "color": "black", "opacity": 1}, "encoding": {"x": {"field": "f", "type": "quantitative"}, "y": {"field": "v", "type": "quantitative"}}},
      {"data": {"values": [{"f": 82.23, "v": 22.1, "t": "ZPA"}]}, "mark": {"type": "text", "font": "Liberation Serif", "fontWeight": "bold", "fontSize": 21, "color": "black", "align": "center", "baseline": "middle"}, "encoding": {"x": {"field": "f", "type": "quantitative"}, "y": {"field": "v", "type": "quantitative"}, "text": {"field": "t"}}}
     ]
    }
   ]
  }
 ]
}
